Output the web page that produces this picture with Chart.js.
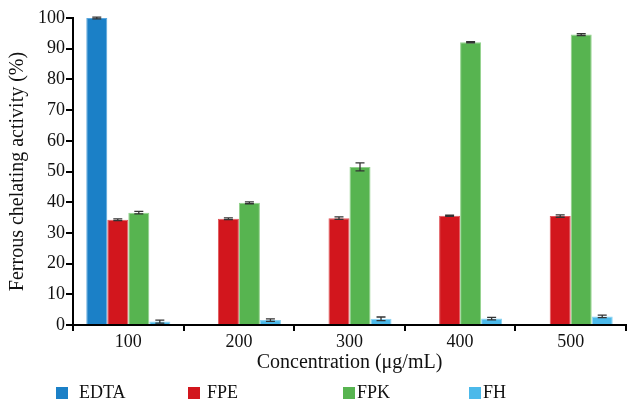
<!DOCTYPE html>
<html>
<head>
<meta charset="utf-8">
<script src="https://cdn.jsdelivr.net/npm/chart.js@4"></script>
<style>
  html, body { margin: 0; padding: 0; background: #fff; }
  #wrap { position: relative; width: 627px; height: 401px; }
  #legend { position: absolute; left: 0; top: 0; width: 627px; height: 401px; pointer-events: none;
            font-family: "Liberation Serif", "DejaVu Serif", serif; font-size: 18px; color: #111; }
  .lg-box { position: absolute; width: 12px; height: 12px; top: 387px; }
  .lg-txt { position: absolute; top: 381px; line-height: 22px; }
</style>
</head>
<body>
<div id="wrap">
  <canvas id="myChart1" width="627" height="401"></canvas>
  <div id="legend"></div>
</div>
<script>
// data
const concentrations = ['100', '200', '300', '400', '500'];
const seriesNames = ['EDTA', 'FPE', 'FPK', 'FH'];
const edta = [100, null, null, null, null];
const fpe = [34.3, 34.6, 34.8, 35.6, 35.5];
const fpk = [36.6, 39.8, 51.5, 92.1, 94.6];
const fh = [1.1, 1.6, 2.0, 2.1, 2.8];
const edtaErr = [0.3, 0, 0, 0, 0];
const fpeErr = [0.3, 0.3, 0.4, 0.2, 0.4];
const fpkErr = [0.4, 0.3, 1.3, 0.2, 0.3];
const fhErr = [0.5, 0.4, 0.6, 0.4, 0.4];
const yTicks = [0, 10, 20, 30, 40, 50, 60, 70, 80, 90, 100];

const fills = ['#1b80c7', '#d2161d', '#57b450', '#4bb9ea'];
const edges = ['#5aa6dc', '#e0555a', '#92d28c', '#8ad3f2'];
const allValues = [edta, fpe, fpk, fh];
const allErrors = [edtaErr, fpeErr, fpkErr, fhErr];

const serif = '"Liberation Serif", "DejaVu Serif", serif';

// error bars drawn on top of each bar through the y scale
const errorBars = {
  id: 'errorBars',
  afterDatasetsDraw(chart) {
    const ctx = chart.ctx;
    const y = chart.scales.y;
    ctx.save();
    ctx.strokeStyle = '#333';
    ctx.lineWidth = 1.3;
    chart.data.datasets.forEach(function (ds, i) {
      const meta = chart.getDatasetMeta(i);
      meta.data.forEach(function (bar, j) {
        const v = ds.data[j];
        const e = allErrors[i][j];
        if (v == null || !e) return;
        const top = y.getPixelForValue(v + e);
        const bot = y.getPixelForValue(v - e);
        const x = bar.x;
        ctx.beginPath();
        ctx.moveTo(x, top); ctx.lineTo(x, bot);
        ctx.moveTo(x - 4.5, top); ctx.lineTo(x + 4.5, top);
        ctx.moveTo(x - 4.5, bot); ctx.lineTo(x + 4.5, bot);
        ctx.stroke();
      });
    });
    ctx.restore();
  }
};

let ctx = document.getElementById('myChart1').getContext('2d');
const chart = new Chart(ctx, {
  type: 'bar',
  data: {
    labels: concentrations,
    datasets: seriesNames.map(function (name, i) {
      return {
        label: name,
        data: allValues[i],
        backgroundColor: fills[i],
        borderColor: edges[i],
        borderWidth: 1,
        categoryPercentage: 0.76,
        barPercentage: 1.0
      };
    })
  },
  options: {
    responsive: false,
    animation: false,
    devicePixelRatio: 1,
    layout: { padding: { top: 18, right: 1, bottom: 26, left: 0 } },
    plugins: {
      legend: { display: false },
      tooltip: { enabled: false }
    },
    scales: {
      x: {
        grid: { drawOnChartArea: false, color: '#000', lineWidth: 2, tickLength: 6, offset: true },
        border: { color: '#000', width: 2 },
        ticks: { color: '#111', font: { family: serif, size: 18 }, padding: 0 },
        title: {
          display: true, text: 'Concentration (μg/mL)', color: '#111',
          font: { family: serif, size: 20 }, padding: { top: 0, bottom: 0 }
        },
        afterFit(s) { s.height = 50; }
      },
      y: {
        min: 0, max: 100,
        afterBuildTicks(s) { s.ticks = yTicks.map(function (v) { return { value: v }; }); },
        grid: { drawOnChartArea: false, color: '#000', lineWidth: 2, tickLength: 7 },
        border: { color: '#000', width: 2 },
        ticks: { color: '#111', font: { family: serif, size: 18 }, padding: 1 },
        title: {
          display: true, text: 'Ferrous chelating activity (%)', color: '#111',
          font: { family: serif, size: 20 }, padding: { top: 6, bottom: 0 }
        },
        afterFit(s) { s.width = 73; }
      }
    }
  },
  plugins: [errorBars]
});

// legend with the spacing of the original
const boxLeft = [56, 188, 343, 469];
const textLeft = [79, 207, 357, 483];
const legend = document.getElementById('legend');
seriesNames.forEach(function (name, i) {
  const b = document.createElement('div');
  b.className = 'lg-box';
  b.style.left = boxLeft[i] + 'px';
  b.style.background = fills[i];
  legend.appendChild(b);
  const t = document.createElement('div');
  t.className = 'lg-txt';
  t.style.left = textLeft[i] + 'px';
  t.textContent = name;
  legend.appendChild(t);
});
</script>
</body>
</html>
